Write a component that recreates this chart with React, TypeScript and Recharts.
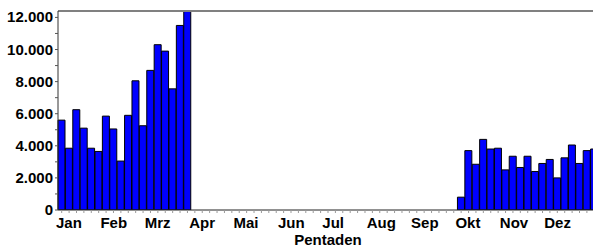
import React from 'react';
import { BarChart, Bar, XAxis, YAxis, ReferenceLine } from 'recharts';

const pentads: number[] = [
  1, 2, 3, 4, 5, 6, 7, 8, 9, 10, 11, 12, 13, 14, 15, 16, 17, 18, 19, 20,
  21, 22, 23, 24, 25, 26, 27, 28, 29, 30, 31, 32, 33, 34, 35, 36, 37, 38, 39, 40,
  41, 42, 43, 44, 45, 46, 47, 48, 49, 50, 51, 52, 53, 54, 55, 56, 57, 58, 59, 60,
  61, 62, 63, 64, 65, 66, 67, 68, 69, 70, 71, 72, 73,
];

const values: (number | null)[] = [
  // Jan
  5600, 3850, 6250, 5100, 3850, 3650,
  // Feb
  5850, 5050, 3050, 5900, 8050, 5250,
  // Mrz
  8700, 10300, 9900, 7550, 11500, 12500,
  // Apr
  null, null, null, null, null, null,
  // Mai
  null, null, null, null, null, null,
  // Jun
  null, null, null, null, null, null,
  // Jul
  null, null, null, null, null, null,
  // Aug
  null, null, null, null, null, null,
  // Sep
  null, null, null, null, null, null,
  // Okt
  800, 3700, 2850, 4400, 3800, 3850,
  // Nov
  2500, 3350, 2650, 3350, 2400, 2900,
  // Dez
  3150, 2000, 3250, 4050, 2900, 3700, 3800,
];

const monthLabels: string[] = ['Jan', 'Feb', 'Mrz', 'Apr', 'Mai', 'Jun', 'Jul', 'Aug', 'Sep', 'Okt', 'Nov', 'Dez'];
const yTicks: number[] = [0, 1000, 2000, 3000, 4000, 5000, 6000, 7000, 8000, 9000, 10000, 11000, 12000];
const yMax = 12400;

const data = pentads.map((p, i) => ({ p, v: values[i] }));

const FONT = '"Liberation Sans", Arial, sans-serif';

const fmt = (n: number) => String(n).replace(/\B(?=(\d{3})+(?!\d))/g, '.');

const YTick = (props: any) => {
  const { x, y, payload } = props;
  const v = payload.value as number;
  if (v % 2000 !== 0) return <g />;
  return (
    <text x={x} y={y} dy={5} textAnchor="end" fontFamily={FONT} fontWeight="bold" fontSize={15} fill="#000">
      {fmt(v)}
    </text>
  );
};

const XTick = (props: any) => {
  const { x, payload, index } = props;
  const idx = (payload.value as number) - 1;
  if (idx % 6 !== 0 || idx / 6 >= monthLabels.length) return <g />;
  const band = 540 / 73;
  return (
    <text x={x - band / 2 - 2} y={228} textAnchor="start" fontFamily={FONT} fontWeight="bold" fontSize={15} fill="#000">
      {monthLabels[idx / 6]}
    </text>
  );
};

export default function App() {
  return (
    <div style={{ position: 'absolute', left: 0, top: 0, width: 593, height: 247, overflow: 'hidden', background: '#fff' }}>
      <BarChart
        width={598}
        height={247}
        data={data}
        margin={{ top: 11, right: 0, left: 0, bottom: 0 }}
        barCategoryGap={0}
        barGap={0}
      >
        <XAxis
          dataKey="p"
          interval={0}
          tick={<XTick />}
          tickSize={3}
          tickLine={{ stroke: '#999' }}
          axisLine={{ stroke: '#222' }}
          height={37}
          label={{ value: 'Pentaden', position: 'insideBottom', offset: 2, fontFamily: FONT, fontWeight: 'bold', fontSize: 15, fill: '#000' }}
        />
        <YAxis
          type="number"
          domain={[0, yMax]}
          allowDataOverflow
          ticks={yTicks}
          interval={0}
          width={58}
          tickSize={3}
          tickMargin={2}
          tick={<YTick />}
          tickLine={{ stroke: '#555' }}
          axisLine={{ stroke: '#333' }}
        />
        <ReferenceLine y={yMax} stroke="#808080" strokeWidth={2} ifOverflow="visible" />
        <Bar dataKey="v" fill="#0000ff" stroke="#000" strokeWidth={1} isAnimationActive={false} />
      </BarChart>
    </div>
  );
}
